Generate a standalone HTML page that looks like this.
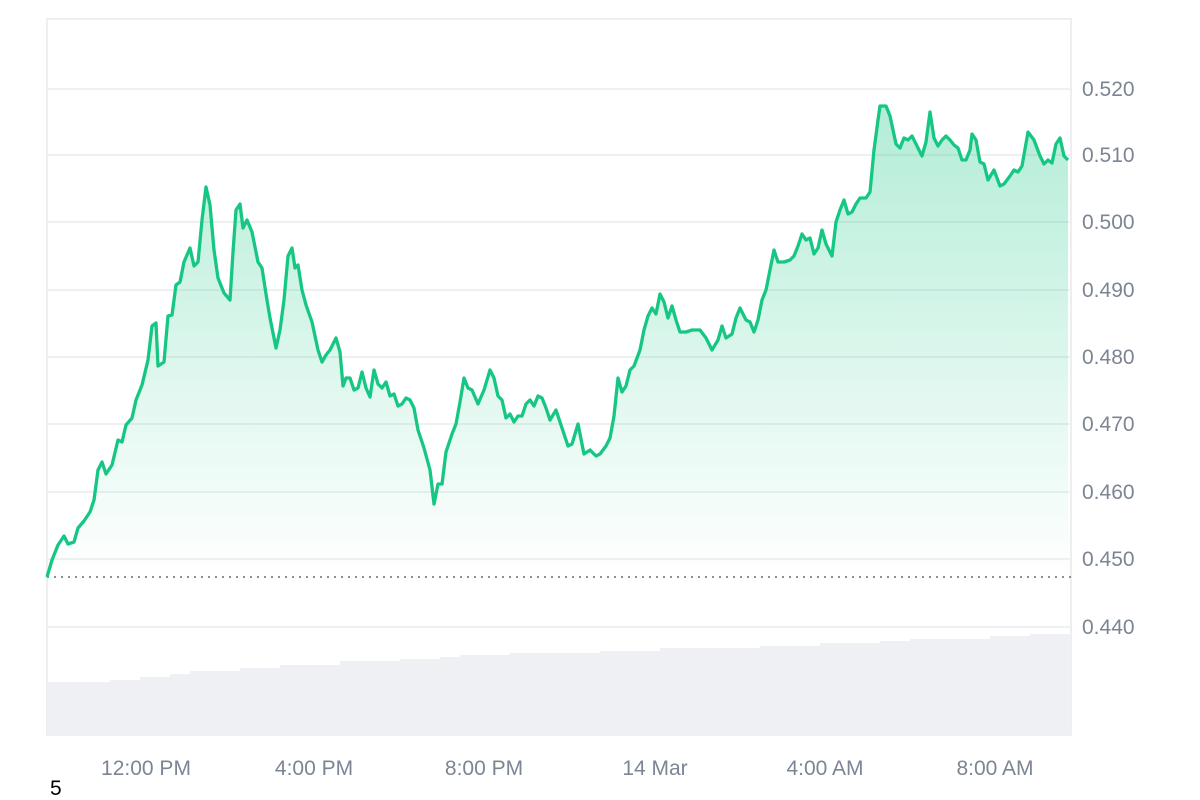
<!DOCTYPE html>
<html><head><meta charset="utf-8"><style>
html,body{margin:0;padding:0;background:#fff;width:1200px;height:800px;overflow:hidden}
text{font-family:"Liberation Sans",sans-serif}
</style></head><body>
<svg width="1200" height="800" viewBox="0 0 1200 800" xmlns="http://www.w3.org/2000/svg">
<defs>
<linearGradient id="g" x1="0" y1="100" x2="0" y2="577" gradientUnits="userSpaceOnUse">
<stop offset="0" stop-color="#16c784" stop-opacity="0.33"/>
<stop offset="1" stop-color="#16c784" stop-opacity="0.0"/>
</linearGradient>
</defs>
<rect x="47" y="19" width="1024" height="716" fill="#fff" stroke="#eceef0" stroke-width="2"/>
<g stroke="#eef0f2" stroke-width="2">
<line x1="47" x2="1071" y1="89" y2="89"/><line x1="47" x2="1071" y1="155" y2="155"/>
<line x1="47" x2="1071" y1="222" y2="222"/><line x1="47" x2="1071" y1="290" y2="290"/>
<line x1="47" x2="1071" y1="357" y2="357"/><line x1="47" x2="1071" y1="424" y2="424"/>
<line x1="47" x2="1071" y1="492" y2="492"/><line x1="47" x2="1071" y1="559" y2="559"/>
<line x1="47" x2="1071" y1="627" y2="627"/>
</g>
<polygon fill="#eef0f3" points="47,735 47,682 110,682 110,680 140,680 140,677 170,677 170,674 190,674 190,671 240,671 240,668 280,668 280,665 340,665 340,661 400,661 400,659 440,659 440,657 460,657 460,655 510,655 510,653 600,653 600,651 660,651 660,648 760,648 760,646 820,646 820,643 880,643 880,641 910,641 910,639 990,639 990,636 1030,636 1030,634 1071,634 1071,735"/>
<line x1="47" x2="1071" y1="577" y2="577" stroke="#8a9099" stroke-width="2" stroke-dasharray="2,5"/>
<polyline fill="url(#g)" stroke="none" points="47,577 52,560 58,545 64,536 68,544 74,542 78,528 84,521 90,512 94,500 98,470 102,462 106,474 112,465 118,440 122,442 126,425 132,418 136,400 142,385 148,360 152,326 156,323 158,366 164,362 168,316 172,315 176,285 180,282 184,262 190,248 194,266 198,262 202,220 206,187 210,205 214,250 218,278 224,293 230,300 233,252 236,210 240,204 243,228 247,220 252,232 258,262 262,268 266,294 270,318 276,348 280,330 284,300 288,256 292,248 295,268 298,265 302,290 306,305 312,322 318,350 322,362 326,355 330,350 336,338 340,352 343,386 346,378 350,378 354,390 358,388 362,372 366,388 370,397 374,370 378,384 382,388 386,382 390,396 394,394 398,406 402,404 406,398 410,400 414,408 418,430 424,448 430,470 434,504 438,484 442,484 446,452 452,434 456,424 460,402 464,378 468,388 472,390 478,404 484,390 490,370 494,378 498,396 502,400 506,418 510,414 514,422 518,416 522,416 526,404 530,400 534,406 538,396 542,398 546,408 550,420 556,410 562,428 568,446 572,444 578,424 584,454 590,450 596,456 600,454 606,446 610,438 614,416 618,378 622,392 626,386 630,370 634,366 640,350 644,330 648,316 652,308 656,314 660,294 664,302 668,318 672,306 676,320 680,332 686,332 692,330 700,330 706,338 712,350 718,340 722,326 726,338 732,334 736,318 740,308 746,320 750,322 754,332 758,320 762,300 766,290 770,270 774,250 778,262 784,262 790,260 794,256 798,246 802,234 806,240 810,238 814,254 818,248 822,230 826,244 832,256 836,222 840,210 844,200 848,214 852,212 856,204 860,198 866,198 870,192 874,150 878,120 880,106 886,106 890,116 896,144 900,148 904,138 908,140 912,136 918,148 922,156 926,142 930,112 934,138 938,146 942,140 946,136 950,140 954,145 958,148 962,160 966,160 970,150 972,134 976,140 980,162 984,164 988,180 994,170 1000,186 1004,184 1010,176 1014,170 1018,172 1022,166 1028,132 1034,140 1040,156 1044,164 1048,160 1052,163 1056,144 1060,138 1064,156 1068,160 1068,577 47,577"/>
<polyline fill="none" stroke="#16c784" stroke-width="3.3" stroke-linejoin="round" points="47,577 52,560 58,545 64,536 68,544 74,542 78,528 84,521 90,512 94,500 98,470 102,462 106,474 112,465 118,440 122,442 126,425 132,418 136,400 142,385 148,360 152,326 156,323 158,366 164,362 168,316 172,315 176,285 180,282 184,262 190,248 194,266 198,262 202,220 206,187 210,205 214,250 218,278 224,293 230,300 233,252 236,210 240,204 243,228 247,220 252,232 258,262 262,268 266,294 270,318 276,348 280,330 284,300 288,256 292,248 295,268 298,265 302,290 306,305 312,322 318,350 322,362 326,355 330,350 336,338 340,352 343,386 346,378 350,378 354,390 358,388 362,372 366,388 370,397 374,370 378,384 382,388 386,382 390,396 394,394 398,406 402,404 406,398 410,400 414,408 418,430 424,448 430,470 434,504 438,484 442,484 446,452 452,434 456,424 460,402 464,378 468,388 472,390 478,404 484,390 490,370 494,378 498,396 502,400 506,418 510,414 514,422 518,416 522,416 526,404 530,400 534,406 538,396 542,398 546,408 550,420 556,410 562,428 568,446 572,444 578,424 584,454 590,450 596,456 600,454 606,446 610,438 614,416 618,378 622,392 626,386 630,370 634,366 640,350 644,330 648,316 652,308 656,314 660,294 664,302 668,318 672,306 676,320 680,332 686,332 692,330 700,330 706,338 712,350 718,340 722,326 726,338 732,334 736,318 740,308 746,320 750,322 754,332 758,320 762,300 766,290 770,270 774,250 778,262 784,262 790,260 794,256 798,246 802,234 806,240 810,238 814,254 818,248 822,230 826,244 832,256 836,222 840,210 844,200 848,214 852,212 856,204 860,198 866,198 870,192 874,150 878,120 880,106 886,106 890,116 896,144 900,148 904,138 908,140 912,136 918,148 922,156 926,142 930,112 934,138 938,146 942,140 946,136 950,140 954,145 958,148 962,160 966,160 970,150 972,134 976,140 980,162 984,164 988,180 994,170 1000,186 1004,184 1010,176 1014,170 1018,172 1022,166 1028,132 1034,140 1040,156 1044,164 1048,160 1052,163 1056,144 1060,138 1064,156 1068,160"/>
<g fill="#7c8594" font-size="21">
<text x="1082" y="96">0.520</text><text x="1082" y="162">0.510</text>
<text x="1082" y="229">0.500</text><text x="1082" y="297">0.490</text>
<text x="1082" y="364">0.480</text><text x="1082" y="431">0.470</text>
<text x="1082" y="499">0.460</text><text x="1082" y="566">0.450</text>
<text x="1082" y="634">0.440</text>
</g>
<g fill="#7c8594" font-size="21" text-anchor="middle">
<text x="146" y="775">12:00 PM</text><text x="314" y="775">4:00 PM</text>
<text x="484" y="775">8:00 PM</text><text x="655" y="775">14 Mar</text>
<text x="825" y="775">4:00 AM</text><text x="995" y="775">8:00 AM</text>
</g>
<text x="50" y="795" font-size="21" fill="#000">5</text>
</svg>
</body></html>
